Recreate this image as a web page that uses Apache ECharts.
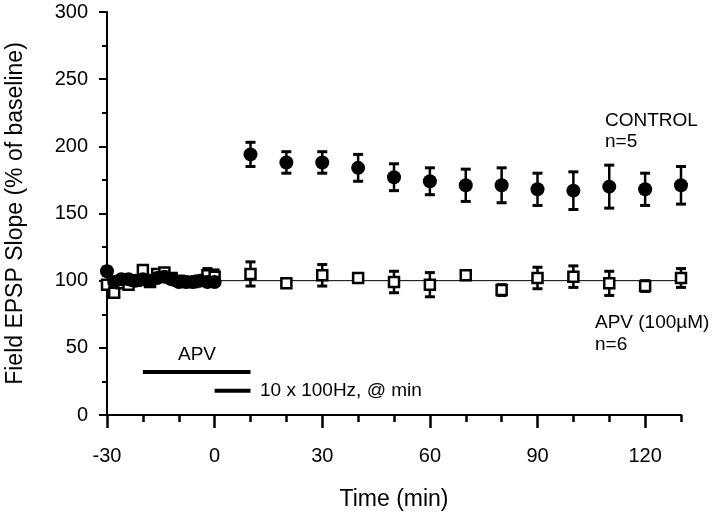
<!DOCTYPE html>
<html>
<head>
<meta charset="utf-8">
<script src="https://cdn.jsdelivr.net/npm/echarts@6/dist/echarts.min.js"></script>
<style>
html,body{margin:0;padding:0;background:#fff;}
#chart{width:720px;height:514px;}
</style>
</head>
<body>
<div id="chart"></div>
<script>
// ---- data ----
var baselineTimes = [-30,-28,-26,-24,-22,-20,-18,-16,-14,-12,-10,-8,-6,-4,-2,0];
var controlBaseline = [107,99,101,101,100,101,100,102,103,101,99,99,99,100,99,99];
var controlBaselineErr = [3,2,2,2,2,2,2,2,2,2,2,2,2,2,2,2];
var apvBaseline = [97,91,98,97,100,108,99,105,106,102,100,99,99,100,104,103];
var apvBaselineErr = [3,2,2,2,2,3,2,3,3,2,2,2,2,2,5,5];

var postTimes = [10,20,30,40,50,60,70,80,90,100,110,120,130];
var controlPost = [194,188,188,184,177,174,171,171,168,167,170,168,171];
var controlPostErr = [9,8,8,10,10,10,12,13,12,14,16,12,14];
var apvPost = [105,98,104,102,99,97,104,93,102,103,98,96,102];
var apvPostErr = [9,3,8,3,8,9,2,4,8,8,9,4,7];

var referenceLevel = [100];
var apvBar = [-20, 10];      // APV application (min)
var apvBarLevel = [32];
var tetanusBar = [0, 10];    // 10 x 100Hz
var tetanusBarLevel = [18];

var xMajorTicks = [-30,0,30,60,90,120];
var xMinorTicks = [-30,-20,-10,0,10,20,30,40,50,60,70,80,90,100,110,120,130];

// ---- build ----
function zip(xs, ys){ return xs.map(function(x,i){ return [x, ys[i]]; }); }
function zipErr(xs, ys, es){ return xs.map(function(x,i){ return [x, ys[i], es[i]]; }); }

var FONT = "'Liberation Sans', Arial, Helvetica, sans-serif";

var controlData = zip(baselineTimes, controlBaseline).concat(zip(postTimes, controlPost));
var controlErrData = zipErr(baselineTimes, controlBaseline, controlBaselineErr).concat(zipErr(postTimes, controlPost, controlPostErr));
var apvData = zip(baselineTimes, apvBaseline).concat(zip(postTimes, apvPost));
var apvErrData = zipErr(baselineTimes, apvBaseline, apvBaselineErr).concat(zipErr(postTimes, apvPost, apvPostErr));

function errRender(params, api){
  var x = api.value(0), y = api.value(1), e = api.value(2);
  var top = api.coord([x, y + e]);
  var bot = api.coord([x, y - e]);
  var hw = 5;
  var st = {stroke:'#000', lineWidth:2.5};
  return {
    type:'group',
    children:[
      {type:'line', shape:{x1:top[0], y1:top[1], x2:bot[0], y2:bot[1]}, style:st},
      {type:'line', shape:{x1:top[0]-hw, y1:top[1], x2:top[0]+hw, y2:top[1]}, style:{stroke:'#000', lineWidth:3}},
      {type:'line', shape:{x1:bot[0]-hw, y1:bot[1], x2:bot[0]+hw, y2:bot[1]}, style:{stroke:'#000', lineWidth:3}}
    ]
  };
}

var chart = echarts.init(document.getElementById('chart'), null, {renderer:'canvas'});

var option = {
  backgroundColor:'#fff',
  animation:false,
  grid:{left:107, right:39, top:12, bottom:99, containLabel:false, outerBoundsMode:'none'},
  xAxis:[{
    type:'value', min:-30, max:130, position:'bottom',
    name:'Time (min)', nameLocation:'middle', nameGap:73,
    nameTextStyle:{color:'#000', fontSize:23, fontFamily:FONT},
    axisLine:{show:true, onZero:false, lineStyle:{color:'#000', width:2}},
    axisTick:{show:true, length:7, customValues:xMinorTicks, lineStyle:{color:'#000', width:2.5}},
    axisLabel:{show:true, customValues:xMajorTicks, margin:31, color:'#000', fontSize:20, fontFamily:FONT},
    splitLine:{show:false}
  },{
    type:'value', min:-30, max:130, position:'bottom', offset:0,
    axisLine:{show:false, onZero:false},
    axisTick:{show:true, length:13, customValues:xMajorTicks, lineStyle:{color:'#000', width:2.5}},
    axisLabel:{show:false},
    splitLine:{show:false}
  }],
  yAxis:{
    type:'value', min:0, max:300, interval:50,
    name:'Field EPSP Slope (% of baseline)', nameLocation:'middle', nameRotate:90, nameGap:80,
    nameTextStyle:{color:'#000', fontSize:23, fontFamily:FONT},
    axisLine:{show:true, onZero:false, lineStyle:{color:'#000', width:2}},
    axisTick:{show:true, length:8, lineStyle:{color:'#000', width:2}},
    minorTick:{show:true, splitNumber:2, length:5, lineStyle:{color:'#000', width:2}},
    axisLabel:{margin:19, color:'#000', fontSize:20, fontFamily:FONT},
    splitLine:{show:false}, minorSplitLine:{show:false}
  },
  series:[
    {
      type:'line', xAxisIndex:0, silent:true, symbol:'none',
      data:[[baselineTimes[0], referenceLevel[0]],[postTimes[postTimes.length-1], referenceLevel[0]]],
      lineStyle:{color:'#000', width:1}, z:1
    },
    {
      type:'line', xAxisIndex:0, silent:true, symbol:'none',
      data:[[apvBar[0], apvBarLevel[0]],[apvBar[1], apvBarLevel[0]]],
      lineStyle:{color:'#000', width:4, cap:'butt'}, z:1
    },
    {
      type:'line', xAxisIndex:0, silent:true, symbol:'none',
      data:[[tetanusBar[0], tetanusBarLevel[0]],[tetanusBar[1], tetanusBarLevel[0]]],
      lineStyle:{color:'#000', width:4, cap:'butt'}, z:1
    },
    {type:'custom', xAxisIndex:0, renderItem:errRender, data:controlErrData, z:2, silent:true},
    {type:'custom', xAxisIndex:0, renderItem:errRender, data:apvErrData, z:2, silent:true},
    {
      type:'scatter', xAxisIndex:0, data:apvData, symbol:'rect', symbolSize:10,
      itemStyle:{color:'#fff', borderColor:'#000', borderWidth:2.5, opacity:1}, z:3, silent:true
    },
    {
      type:'scatter', xAxisIndex:0, data:controlData, symbol:'circle', symbolSize:14,
      itemStyle:{color:'#000', opacity:1}, z:4, silent:true
    }
  ],
  graphic:[
    {type:'text', left:605, top:111, style:{text:'CONTROL', font:'19px '+FONT, fill:'#000'}},
    {type:'text', left:605, top:132, style:{text:'n=5', font:'19px '+FONT, fill:'#000'}},
    {type:'text', left:595, top:313, style:{text:'APV (100\u00b5M)', font:'19px '+FONT, fill:'#000'}},
    {type:'text', left:595, top:335, style:{text:'n=6', font:'19px '+FONT, fill:'#000'}},
    {type:'text', left:178, top:345, style:{text:'APV', font:'19px '+FONT, fill:'#000'}},
    {type:'text', left:260, top:381, style:{text:'10 x 100Hz, @ min', font:'19px '+FONT, fill:'#000'}}
  ]
};
chart.setOption(option);
</script>
</body>
</html>
